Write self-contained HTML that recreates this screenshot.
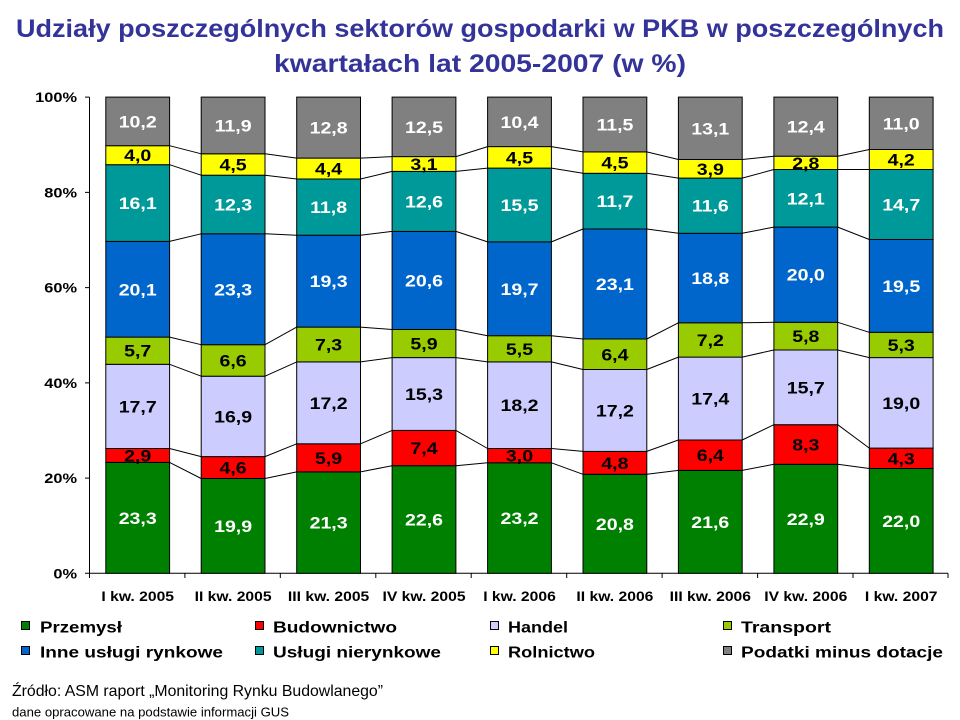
<!DOCTYPE html>
<html><head><meta charset="utf-8"><style>
html,body{margin:0;padding:0;background:#fff;}
svg{display:block;}
text{font-family:"Liberation Sans",Arial,sans-serif;}
.t{font-weight:bold;fill:#333399;font-size:25px;}
.dl{font-weight:bold;font-size:17px;text-anchor:middle;}
.w{fill:#fff;}
.k{fill:#000;}
.ax{font-weight:bold;font-size:14px;}
.lg{font-weight:bold;font-size:16px;}
</style></head><body>
<svg width="960" height="720" viewBox="0 0 960 720" xmlns="http://www.w3.org/2000/svg">
<rect width="960" height="720" fill="#fff"/>
<text class="t" x="480" y="37" text-anchor="middle" textLength="928" lengthAdjust="spacingAndGlyphs">Udziały poszczególnych sektorów gospodarki w PKB w poszczególnych</text>
<text class="t" x="480" y="72" text-anchor="middle" textLength="412" lengthAdjust="spacingAndGlyphs">kwartałach lat 2005-2007 (w %)</text>

<!-- axes -->
<g stroke="#000" stroke-width="1" fill="none">
<path d="M89.5 97.1V573.3H948"/>
<path d="M85 573.3H89.5M85 478.1H89.5M85 382.9H89.5M85 287.6H89.5M85 192.4H89.5M85 97.1H89.5"/>
<path d="M89.5 573.3V578M184.9 573.3V578M280.3 573.3V578M375.8 573.3V578M471.2 573.3V578M566.7 573.3V578M662.1 573.3V578M757.6 573.3V578M853 573.3V578M948 573.3V578"/>
</g>
<g class="ax" text-anchor="end">
<text transform="translate(77,578.3) scale(1.17,1)">0%</text>
<text transform="translate(77,483.1) scale(1.17,1)">20%</text>
<text transform="translate(77,387.9) scale(1.17,1)">40%</text>
<text transform="translate(77,292.6) scale(1.17,1)">60%</text>
<text transform="translate(77,197.4) scale(1.17,1)">80%</text>
<text transform="translate(77,102.1) scale(1.17,1)">100%</text>
</g>
<g class="ax" text-anchor="middle">
<text transform="translate(137.7,601) scale(1.12,1)">I kw. 2005</text>
<text transform="translate(233.1,601) scale(1.12,1)">II kw. 2005</text>
<text transform="translate(328.6,601) scale(1.12,1)">III kw. 2005</text>
<text transform="translate(424,601) scale(1.12,1)">IV kw. 2005</text>
<text transform="translate(519.5,601) scale(1.12,1)">I kw. 2006</text>
<text transform="translate(614.9,601) scale(1.12,1)">II kw. 2006</text>
<text transform="translate(710.3,601) scale(1.12,1)">III kw. 2006</text>
<text transform="translate(805.8,601) scale(1.12,1)">IV kw. 2006</text>
<text transform="translate(901.2,601) scale(1.12,1)">I kw. 2007</text>
</g>

<!-- connector lines -->
<g stroke="#000" stroke-width="1" fill="none">
<path d="M169.6 462.4L201.2 478.5M265 478.5L296.7 471.9M360.5 471.9L392.1 465.7M455.9 465.7L487.6 462.8M551.4 462.8L583 474.3M646.8 474.3L678.4 470.4M742.2 470.4L773.9 464.3M837.7 464.3L869.3 468.5"/>
<path d="M169.6 448.5L201.2 456.6M265 456.6L296.7 443.8M360.5 443.8L392.1 430.4M455.9 430.4L487.6 448.5M551.4 448.5L583 451.4M646.8 451.4L678.4 440M742.2 440L773.9 424.7M837.7 424.7L869.3 448.1"/>
<path d="M169.6 364.3L201.2 376.2M265 376.2L296.7 361.9M360.5 361.9L392.1 357.6M455.9 357.6L487.6 361.9M551.4 361.9L583 369.5M646.8 369.5L678.4 357.1M742.2 357.1L773.9 350M837.7 350L869.3 357.6"/>
<path d="M169.6 337.1L201.2 344.7M265 344.7L296.7 327.1M360.5 327.1L392.1 329.5M455.9 329.5L487.6 335.7M551.4 335.7L583 339M646.8 339L678.4 322.8M742.2 322.8L773.9 322.3M837.7 322.3L869.3 332.3"/>
<path d="M169.6 241.4L201.2 233.8M265 233.8L296.7 235.2M360.5 235.2L392.1 231.4M455.9 231.4L487.6 241.9M551.4 241.9L583 229M646.8 229L678.4 233.3M742.2 233.3L773.9 227.1M837.7 227.1L869.3 239.5"/>
<path d="M169.6 164.7L201.2 175.2M265 175.2L296.7 179M360.5 179L392.1 171.4M455.9 171.4L487.6 168.1M551.4 168.1L583 173.3M646.8 173.3L678.4 178.1M742.2 178.1L773.9 169.5M837.7 169.5L869.3 169.5"/>
<path d="M169.6 145.7L201.2 153.8M265 153.8L296.7 158.1M360.5 158.1L392.1 156.6M455.9 156.6L487.6 146.6M551.4 146.6L583 151.9M646.8 151.9L678.4 159.5M742.2 159.5L773.9 156.2M837.7 156.2L869.3 149.5"/>
</g>

<!-- Bar 1 -->
<g transform="translate(105.8,0)" stroke="#000" stroke-width="1">
<rect y="462.4" width="63.8" height="110.9" fill="#008000"/>
<rect y="448.5" width="63.8" height="13.9" fill="#ff0000"/>
<rect y="364.3" width="63.8" height="84.2" fill="#ccccff"/>
<rect y="337.1" width="63.8" height="27.2" fill="#99cc00"/>
<rect y="241.4" width="63.8" height="95.7" fill="#0066cc"/>
<rect y="164.7" width="63.8" height="76.7" fill="#009999"/>
<rect y="145.7" width="63.8" height="19" fill="#ffff00"/>
<rect y="97.1" width="63.8" height="48.6" fill="#808080"/>
</g>
<g transform="translate(137.7,0)">
<text class="dl w" transform="translate(0,523.8) scale(1.15,1)">23,3</text>
<text class="dl k" transform="translate(0,461.5) scale(1.15,1)">2,9</text>
<text class="dl k" transform="translate(0,412.4) scale(1.15,1)">17,7</text>
<text class="dl k" transform="translate(0,356.7) scale(1.15,1)">5,7</text>
<text class="dl w" transform="translate(0,295.3) scale(1.15,1)">20,1</text>
<text class="dl w" transform="translate(0,209.1) scale(1.15,1)">16,1</text>
<text class="dl k" transform="translate(0,161.2) scale(1.15,1)">4,0</text>
<text class="dl w" transform="translate(0,127.4) scale(1.15,1)">10,2</text>
</g>

<!-- Bar 2 -->
<g transform="translate(201.2,0)" stroke="#000" stroke-width="1">
<rect y="478.5" width="63.8" height="94.8" fill="#008000"/>
<rect y="456.6" width="63.8" height="21.9" fill="#ff0000"/>
<rect y="376.2" width="63.8" height="80.4" fill="#ccccff"/>
<rect y="344.7" width="63.8" height="31.5" fill="#99cc00"/>
<rect y="233.8" width="63.8" height="110.9" fill="#0066cc"/>
<rect y="175.2" width="63.8" height="58.6" fill="#009999"/>
<rect y="153.8" width="63.8" height="21.4" fill="#ffff00"/>
<rect y="97.1" width="63.8" height="56.7" fill="#808080"/>
</g>
<g transform="translate(233.1,0)">
<text class="dl w" transform="translate(0,531.9) scale(1.15,1)">19,9</text>
<text class="dl k" transform="translate(0,473.6) scale(1.15,1)">4,6</text>
<text class="dl k" transform="translate(0,422.4) scale(1.15,1)">16,9</text>
<text class="dl k" transform="translate(0,366.5) scale(1.15,1)">6,6</text>
<text class="dl w" transform="translate(0,295.3) scale(1.15,1)">23,3</text>
<text class="dl w" transform="translate(0,210.5) scale(1.15,1)">12,3</text>
<text class="dl k" transform="translate(0,170.5) scale(1.15,1)">4,5</text>
<text class="dl w" transform="translate(0,131.5) scale(1.15,1)">11,9</text>
</g>

<!-- Bar 3 -->
<g transform="translate(296.7,0)" stroke="#000" stroke-width="1">
<rect y="471.9" width="63.8" height="101.4" fill="#008000"/>
<rect y="443.8" width="63.8" height="28.1" fill="#ff0000"/>
<rect y="361.9" width="63.8" height="81.9" fill="#ccccff"/>
<rect y="327.1" width="63.8" height="34.8" fill="#99cc00"/>
<rect y="235.2" width="63.8" height="91.9" fill="#0066cc"/>
<rect y="179" width="63.8" height="56.2" fill="#009999"/>
<rect y="158.1" width="63.8" height="20.9" fill="#ffff00"/>
<rect y="97.1" width="63.8" height="61" fill="#808080"/>
</g>
<g transform="translate(328.6,0)">
<text class="dl w" transform="translate(0,528.6) scale(1.15,1)">21,3</text>
<text class="dl k" transform="translate(0,463.9) scale(1.15,1)">5,9</text>
<text class="dl k" transform="translate(0,408.9) scale(1.15,1)">17,2</text>
<text class="dl k" transform="translate(0,350.5) scale(1.15,1)">7,3</text>
<text class="dl w" transform="translate(0,287.2) scale(1.15,1)">19,3</text>
<text class="dl w" transform="translate(0,213.1) scale(1.15,1)">11,8</text>
<text class="dl k" transform="translate(0,174.6) scale(1.15,1)">4,4</text>
<text class="dl w" transform="translate(0,133.6) scale(1.15,1)">12,8</text>
</g>

<!-- Bar 4 -->
<g transform="translate(392.1,0)" stroke="#000" stroke-width="1">
<rect y="465.7" width="63.8" height="107.6" fill="#008000"/>
<rect y="430.4" width="63.8" height="35.3" fill="#ff0000"/>
<rect y="357.6" width="63.8" height="72.8" fill="#ccccff"/>
<rect y="329.5" width="63.8" height="28.1" fill="#99cc00"/>
<rect y="231.4" width="63.8" height="98.1" fill="#0066cc"/>
<rect y="171.4" width="63.8" height="60" fill="#009999"/>
<rect y="156.6" width="63.8" height="14.8" fill="#ffff00"/>
<rect y="97.1" width="63.8" height="59.5" fill="#808080"/>
</g>
<g transform="translate(424,0)">
<text class="dl w" transform="translate(0,525.5) scale(1.15,1)">22,6</text>
<text class="dl k" transform="translate(0,454.1) scale(1.15,1)">7,4</text>
<text class="dl k" transform="translate(0,400) scale(1.15,1)">15,3</text>
<text class="dl k" transform="translate(0,349.6) scale(1.15,1)">5,9</text>
<text class="dl w" transform="translate(0,286.5) scale(1.15,1)">20,6</text>
<text class="dl w" transform="translate(0,207.4) scale(1.15,1)">12,6</text>
<text class="dl k" transform="translate(0,170) scale(1.15,1)">3,1</text>
<text class="dl w" transform="translate(0,132.9) scale(1.15,1)">12,5</text>
</g>

<!-- Bar 5 -->
<g transform="translate(487.6,0)" stroke="#000" stroke-width="1">
<rect y="462.8" width="63.8" height="110.5" fill="#008000"/>
<rect y="448.5" width="63.8" height="14.3" fill="#ff0000"/>
<rect y="361.9" width="63.8" height="86.6" fill="#ccccff"/>
<rect y="335.7" width="63.8" height="26.2" fill="#99cc00"/>
<rect y="241.9" width="63.8" height="93.8" fill="#0066cc"/>
<rect y="168.1" width="63.8" height="73.8" fill="#009999"/>
<rect y="146.6" width="63.8" height="21.5" fill="#ffff00"/>
<rect y="97.1" width="63.8" height="49.5" fill="#808080"/>
</g>
<g transform="translate(519.5,0)">
<text class="dl w" transform="translate(0,524.1) scale(1.15,1)">23,2</text>
<text class="dl k" transform="translate(0,461.7) scale(1.15,1)">3,0</text>
<text class="dl k" transform="translate(0,411.2) scale(1.15,1)">18,2</text>
<text class="dl k" transform="translate(0,354.8) scale(1.15,1)">5,5</text>
<text class="dl w" transform="translate(0,294.8) scale(1.15,1)">19,7</text>
<text class="dl w" transform="translate(0,211) scale(1.15,1)">15,5</text>
<text class="dl k" transform="translate(0,163.4) scale(1.15,1)">4,5</text>
<text class="dl w" transform="translate(0,127.9) scale(1.15,1)">10,4</text>
</g>

<!-- Bar 6 -->
<g transform="translate(583,0)" stroke="#000" stroke-width="1">
<rect y="474.3" width="63.8" height="99" fill="#008000"/>
<rect y="451.4" width="63.8" height="22.9" fill="#ff0000"/>
<rect y="369.5" width="63.8" height="81.9" fill="#ccccff"/>
<rect y="339" width="63.8" height="30.5" fill="#99cc00"/>
<rect y="229" width="63.8" height="110" fill="#0066cc"/>
<rect y="173.3" width="63.8" height="55.7" fill="#009999"/>
<rect y="151.9" width="63.8" height="21.4" fill="#ffff00"/>
<rect y="97.1" width="63.8" height="54.8" fill="#808080"/>
</g>
<g transform="translate(614.9,0)">
<text class="dl w" transform="translate(0,529.8) scale(1.15,1)">20,8</text>
<text class="dl k" transform="translate(0,468.9) scale(1.15,1)">4,8</text>
<text class="dl k" transform="translate(0,416.5) scale(1.15,1)">17,2</text>
<text class="dl k" transform="translate(0,360.3) scale(1.15,1)">6,4</text>
<text class="dl w" transform="translate(0,290) scale(1.15,1)">23,1</text>
<text class="dl w" transform="translate(0,207.2) scale(1.15,1)">11,7</text>
<text class="dl k" transform="translate(0,168.6) scale(1.15,1)">4,5</text>
<text class="dl w" transform="translate(0,130.5) scale(1.15,1)">11,5</text>
</g>

<!-- Bar 7 -->
<g transform="translate(678.4,0)" stroke="#000" stroke-width="1">
<rect y="470.4" width="63.8" height="102.9" fill="#008000"/>
<rect y="440" width="63.8" height="30.4" fill="#ff0000"/>
<rect y="357.1" width="63.8" height="82.9" fill="#ccccff"/>
<rect y="322.8" width="63.8" height="34.3" fill="#99cc00"/>
<rect y="233.3" width="63.8" height="89.5" fill="#0066cc"/>
<rect y="178.1" width="63.8" height="55.2" fill="#009999"/>
<rect y="159.5" width="63.8" height="18.6" fill="#ffff00"/>
<rect y="97.1" width="63.8" height="62.4" fill="#808080"/>
</g>
<g transform="translate(710.3,0)">
<text class="dl w" transform="translate(0,527.9) scale(1.15,1)">21,6</text>
<text class="dl k" transform="translate(0,461.2) scale(1.15,1)">6,4</text>
<text class="dl k" transform="translate(0,404.6) scale(1.15,1)">17,4</text>
<text class="dl k" transform="translate(0,346) scale(1.15,1)">7,2</text>
<text class="dl w" transform="translate(0,284.1) scale(1.15,1)">18,8</text>
<text class="dl w" transform="translate(0,211.7) scale(1.15,1)">11,6</text>
<text class="dl k" transform="translate(0,174.8) scale(1.15,1)">3,9</text>
<text class="dl w" transform="translate(0,134.3) scale(1.15,1)">13,1</text>
</g>

<!-- Bar 8 -->
<g transform="translate(773.9,0)" stroke="#000" stroke-width="1">
<rect y="464.3" width="63.8" height="109" fill="#008000"/>
<rect y="424.7" width="63.8" height="39.6" fill="#ff0000"/>
<rect y="350" width="63.8" height="74.7" fill="#ccccff"/>
<rect y="322.3" width="63.8" height="27.7" fill="#99cc00"/>
<rect y="227.1" width="63.8" height="95.2" fill="#0066cc"/>
<rect y="169.5" width="63.8" height="57.6" fill="#009999"/>
<rect y="156.2" width="63.8" height="13.3" fill="#ffff00"/>
<rect y="97.1" width="63.8" height="59.1" fill="#808080"/>
</g>
<g transform="translate(805.8,0)">
<text class="dl w" transform="translate(0,524.8) scale(1.15,1)">22,9</text>
<text class="dl k" transform="translate(0,450.5) scale(1.15,1)">8,3</text>
<text class="dl k" transform="translate(0,393.4) scale(1.15,1)">15,7</text>
<text class="dl k" transform="translate(0,342.2) scale(1.15,1)">5,8</text>
<text class="dl w" transform="translate(0,280.7) scale(1.15,1)">20,0</text>
<text class="dl w" transform="translate(0,204.3) scale(1.15,1)">12,1</text>
<text class="dl k" transform="translate(0,168.9) scale(1.15,1)">2,8</text>
<text class="dl w" transform="translate(0,132.7) scale(1.15,1)">12,4</text>
</g>

<!-- Bar 9 -->
<g transform="translate(869.3,0)" stroke="#000" stroke-width="1">
<rect y="468.5" width="63.8" height="104.8" fill="#008000"/>
<rect y="448.1" width="63.8" height="20.4" fill="#ff0000"/>
<rect y="357.6" width="63.8" height="90.5" fill="#ccccff"/>
<rect y="332.3" width="63.8" height="25.3" fill="#99cc00"/>
<rect y="239.5" width="63.8" height="92.8" fill="#0066cc"/>
<rect y="169.5" width="63.8" height="70" fill="#009999"/>
<rect y="149.5" width="63.8" height="20" fill="#ffff00"/>
<rect y="97.1" width="63.8" height="52.4" fill="#808080"/>
</g>
<g transform="translate(901.2,0)">
<text class="dl w" transform="translate(0,526.9) scale(1.15,1)">22,0</text>
<text class="dl k" transform="translate(0,464.3) scale(1.15,1)">4,3</text>
<text class="dl k" transform="translate(0,408.9) scale(1.15,1)">19,0</text>
<text class="dl k" transform="translate(0,351) scale(1.15,1)">5,3</text>
<text class="dl w" transform="translate(0,291.9) scale(1.15,1)">19,5</text>
<text class="dl w" transform="translate(0,210.5) scale(1.15,1)">14,7</text>
<text class="dl k" transform="translate(0,165.5) scale(1.15,1)">4,2</text>
<text class="dl w" transform="translate(0,129.3) scale(1.15,1)">11,0</text>
</g>

<!-- legend -->
<g stroke="#000" stroke-width="1">
<rect x="21.5" y="621.5" width="8" height="8" fill="#008000"/>
<rect x="255.5" y="621.5" width="8" height="8" fill="#ff0000"/>
<rect x="490.5" y="621.5" width="8" height="8" fill="#ccccff"/>
<rect x="723.5" y="621.5" width="8" height="8" fill="#99cc00"/>
<rect x="21.5" y="646.5" width="8" height="8" fill="#0066cc"/>
<rect x="255.5" y="646.5" width="8" height="8" fill="#009999"/>
<rect x="490.5" y="646.5" width="8" height="8" fill="#ffff00"/>
<rect x="723.5" y="646.5" width="8" height="8" fill="#808080"/>
</g>
<g class="lg">
<text x="40" y="632.7" textLength="82" lengthAdjust="spacingAndGlyphs">Przemysł</text>
<text x="273" y="632.7" textLength="124" lengthAdjust="spacingAndGlyphs">Budownictwo</text>
<text x="508" y="632.7" textLength="60" lengthAdjust="spacingAndGlyphs">Handel</text>
<text x="741" y="632.7" textLength="90" lengthAdjust="spacingAndGlyphs">Transport</text>
<text x="40" y="657.7" textLength="183" lengthAdjust="spacingAndGlyphs">Inne usługi rynkowe</text>
<text x="273" y="657.7" textLength="168" lengthAdjust="spacingAndGlyphs">Usługi nierynkowe</text>
<text x="508" y="657.7" textLength="87" lengthAdjust="spacingAndGlyphs">Rolnictwo</text>
<text x="741" y="657.7" textLength="202" lengthAdjust="spacingAndGlyphs">Podatki minus dotacje</text>
</g>

<text x="12" y="696" font-size="16" textLength="371" lengthAdjust="spacingAndGlyphs">Źródło: ASM raport „Monitoring Rynku Budowlanego”</text>
<text x="12" y="716.7" font-size="13" textLength="277" lengthAdjust="spacingAndGlyphs">dane opracowane na podstawie informacji GUS</text>
</svg>
</body></html>
